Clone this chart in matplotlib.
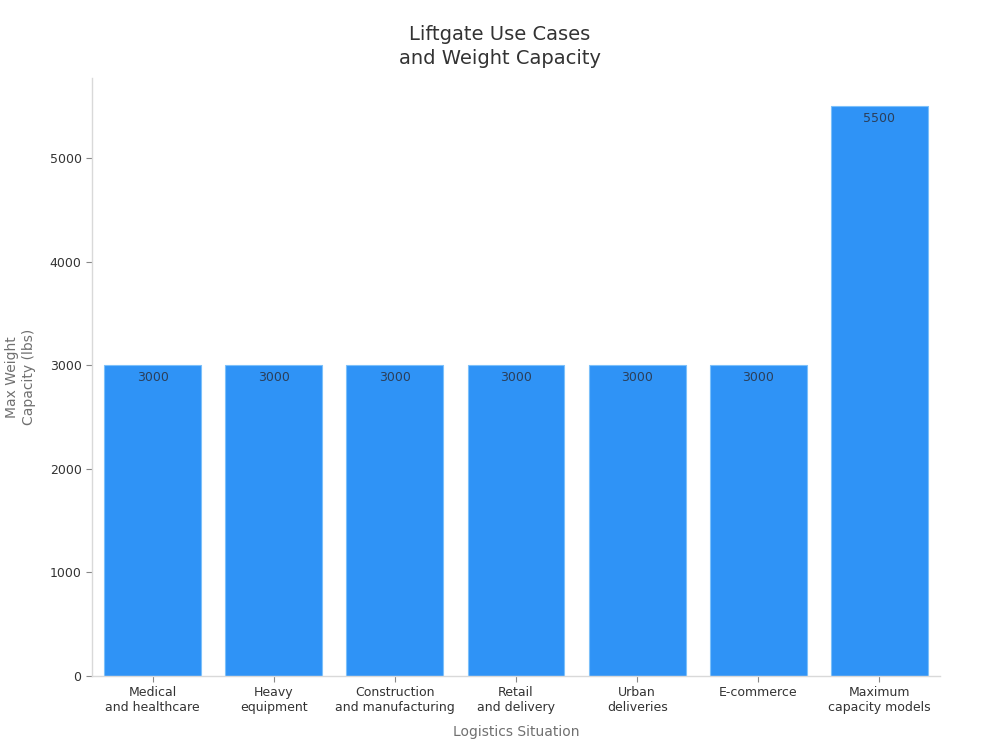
import matplotlib
matplotlib.use("Agg")
import matplotlib.pyplot as plt

# データ
situations = [
    "Medical\nand healthcare",
    "Heavy\nequipment",
    "Construction\nand manufacturing",
    "Retail\nand delivery",
    "Urban\ndeliveries",
    "E-commerce",
    "Maximum\ncapacity models",
]
capacity_lbs = [3000, 3000, 3000, 3000, 3000, 3000, 5500]
y_ticks = [0, 1000, 2000, 3000, 4000, 5000]

fig = plt.figure(figsize=(10, 7.5), dpi=100)
ax = fig.add_axes([0.092, 0.099, 0.848, 0.797])

x = range(len(situations))
bars = ax.bar(x, capacity_lbs, width=0.8, color="#2f93f6",
              edgecolor="#7cc0fa", linewidth=0.8)

# 棒の中に値を表示
for xi, v in zip(x, capacity_lbs):
    ax.text(xi, v - 55, str(v), ha="center", va="top",
            fontsize=9, color="#2b3f5a")

ax.set_xlim(-0.5, len(situations) - 0.5)
ax.set_ylim(0, 5775)
ax.set_xticks(list(x))
ax.set_xticklabels(situations, fontsize=9, color="#333333")
ax.set_yticks(y_ticks)
ax.set_yticklabels([str(t) for t in y_ticks], fontsize=9, color="#333333")

for side in ["top", "right"]:
    ax.spines[side].set_visible(False)
for side in ["left", "bottom"]:
    ax.spines[side].set_color("#d9d9d9")
    ax.spines[side].set_linewidth(1.0)
ax.tick_params(axis="both", colors="#888888", length=4, width=0.8)
ax.tick_params(axis="both", labelcolor="#333333")

ax.set_xlabel("Logistics Situation", fontsize=10, color="#707070", labelpad=8)
ax.set_ylabel("Max Weight\nCapacity (lbs)", fontsize=10, color="#707070", labelpad=10)
fig.suptitle("Liftgate Use Cases\nand Weight Capacity", fontsize=14,
             color="#333333", y=0.967, linespacing=1.35)

fig.savefig("out.png", dpi=100)
